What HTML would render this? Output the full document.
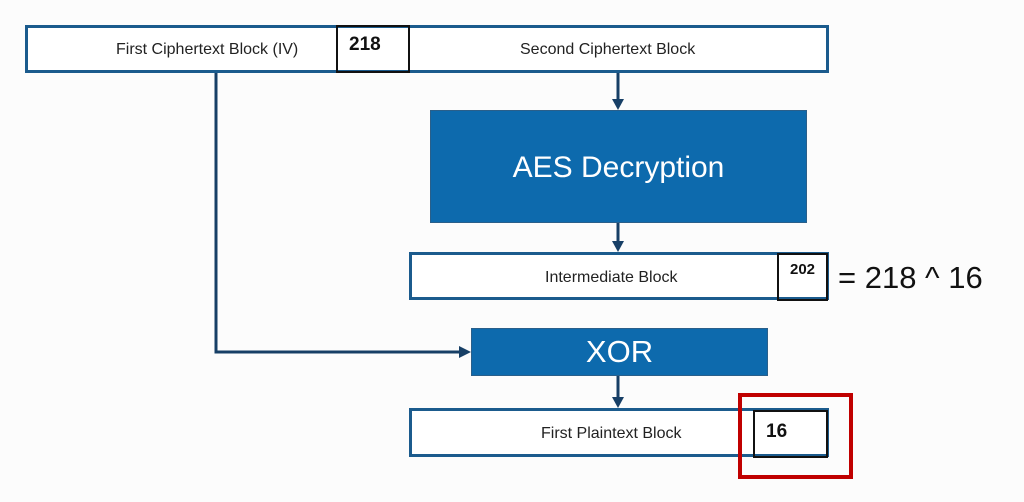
<!DOCTYPE html>
<html><head><style>
body{margin:0;width:1024px;height:502px;background:#fcfcfc;position:relative;font-family:"Liberation Sans",sans-serif;overflow:hidden}
.b{position:absolute;box-sizing:border-box;border:3px solid #1b5b8d;background:#fff;font-size:16px;color:#222;display:flex;align-items:center}
.k{position:absolute;box-sizing:border-box;border:2px solid #111;font-weight:bold;color:#111}
.f{position:absolute;box-sizing:border-box;background:#0d6aad;border:1px solid #2a5f8a;color:#fff;display:flex;align-items:center;justify-content:center}
.t{position:absolute;white-space:nowrap}
</style></head><body>
<div class="b" style="left:25px;top:25px;width:804px;height:48px"></div>
<div class="t" style="left:116px;top:41px;font-size:16px;color:#222">First Ciphertext Block (IV)</div>
<div class="t" style="left:520px;top:41px;font-size:16px;color:#222">Second Ciphertext Block</div>
<div class="k" style="left:336px;top:25px;width:74px;height:48px;font-size:19px;padding:7px 0 0 11px">218</div>
<div class="f" style="left:430px;top:110px;width:377px;height:113px;font-size:30px;padding-top:3px">AES Decryption</div>
<div class="t" style="left:545px;top:269px;font-size:16px;color:#222;z-index:2">Intermediate Block</div>
<div class="b" style="left:409px;top:252px;width:420px;height:48px"></div>
<div class="k" style="left:777px;top:253px;width:51px;height:48px;font-size:15px;padding:6px 0 0 11px">202</div>
<div class="t" style="left:838px;top:260px;font-size:31px;color:#111">= 218 ^ 16</div>
<div class="f" style="left:471px;top:328px;width:297px;height:48px;font-size:31px">XOR</div>
<div class="b" style="left:409px;top:408px;width:420px;height:49px"></div>
<div class="t" style="left:541px;top:425px;font-size:16px;color:#222;z-index:2">First Plaintext Block</div>
<div class="k" style="left:753px;top:410px;width:75px;height:48px;font-size:19px;padding:9px 0 0 11px">16</div>
<div style="position:absolute;left:738px;top:393px;width:115px;height:86px;box-sizing:border-box;border:4px solid #c00000"></div>
<svg width="1024" height="502" style="position:absolute;left:0;top:0">
<g stroke="#173f66" stroke-width="3" fill="none">
<path d="M216 73V352H462"/>
<path d="M618 73V100"/><path d="M618 223V242"/><path d="M618 376V398"/>
</g>
<g fill="#173f66">
<path d="M471 352l-12-6v12z"/>
<path d="M618 110l-6-11h12z"/><path d="M618 252l-6-11h12z"/><path d="M618 408l-6-11h12z"/>
</g>
</svg>
</body></html>
